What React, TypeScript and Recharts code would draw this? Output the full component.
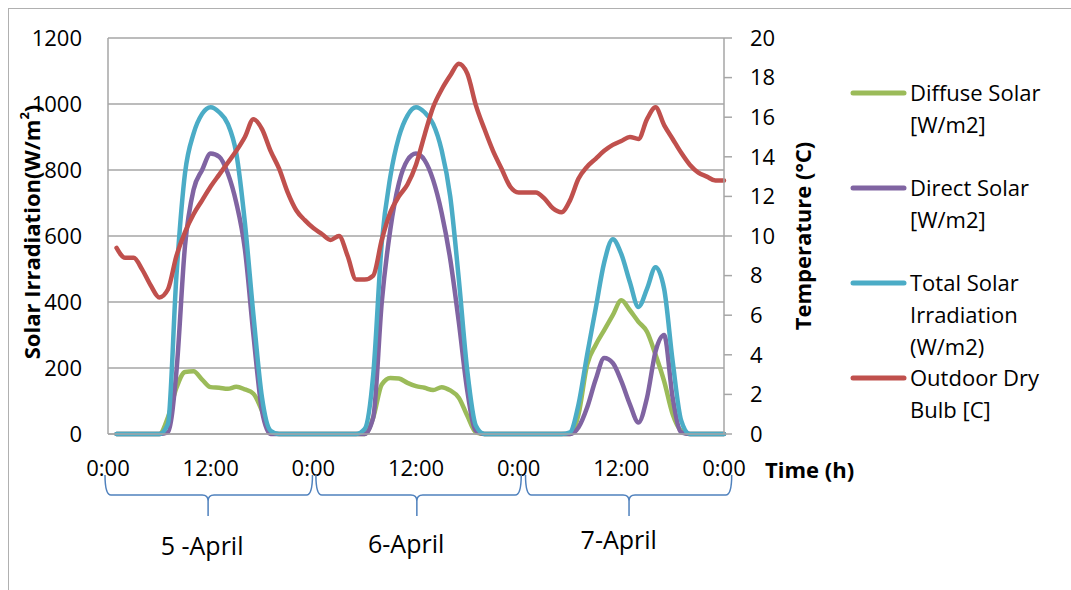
import React from 'react';
import { LineChart, Line, XAxis, YAxis, CartesianGrid, Legend } from 'recharts';

const W = 1071;
const H = 590;
const PLOT_LEFT = 108;
const PLOT_RIGHT = 724;
const PLOT_TOP = 38;
const PLOT_BOTTOM = 434;
const LEFT_AXIS_W = 108;
const RIGHT_AXIS_W = 100;
const X_AXIS_H = 30;
const FONT = '"Open Sans", "Noto Sans", sans-serif';
const FS = 22;
const AXIS_GREY = '#a6a6a6';

// hour of the 3-day period (1..72)
const hours = Array.from({ length: 72 }, (_, i) => i + 1);

const diffuseSolar = [
  0, 0, 0, 0, 0, 0, 50, 140, 188, 190, 165, 142, 140, 137, 143, 135, 122, 70, 5, 0,
  0, 0, 0, 0, 0, 0, 0, 0, 0, 0,
  50, 150, 170, 168, 155, 145, 140, 133, 142, 132, 110, 55, 5, 0,
  0, 0, 0, 0, 0, 0, 0, 0, 0, 0,
  60, 210, 270, 315, 360, 405, 375, 340, 310, 240, 160, 60, 10, 0,
  0, 0, 0, 0,
];

const directSolar = [
  0, 0, 0, 0, 0, 0, 5, 190, 570, 740, 800, 850, 840, 790, 700, 560, 300, 70, 0, 0,
  0, 0, 0, 0, 0, 0, 0, 0, 0, 0,
  50, 400, 620, 760, 830, 850, 830, 770, 670, 530, 340, 130, 10, 0,
  0, 0, 0, 0, 0, 0, 0, 0, 0, 0,
  20, 80, 165, 230, 215, 160, 90, 35, 110, 250, 300, 110, 5, 0,
  0, 0, 0, 0,
];

const totalSolar = [
  0, 0, 0, 0, 0, 0, 30, 480, 790, 910, 970, 990, 975, 940, 850, 640, 360, 110, 10, 0,
  0, 0, 0, 0, 0, 0, 0, 0, 0, 15,
  180, 580, 780, 900, 965, 990, 975, 940, 860, 720, 470, 190, 25, 0,
  0, 0, 0, 0, 0, 0, 0, 0, 0, 5,
  90, 240, 380, 520, 590, 545, 460, 385, 440, 505, 440, 220, 40, 0,
  0, 0, 0, 0,
];

const outdoorTemp = [
  9.4, 8.9, 8.9, 8.3, 7.5, 6.9, 7.3, 9.0, 10.2, 11.1, 11.8, 12.5, 13.1, 13.7, 14.3, 15.0, 15.9, 15.4, 14.3, 13.4, 12.2, 11.3, 10.8, 10.4,
  10.1, 9.8, 10.0, 9.0, 7.8, 7.8, 8.0, 9.8, 11.2, 12.0, 12.6, 13.6, 15.1, 16.5, 17.4, 18.1, 18.7, 18.2, 16.6, 15.4, 14.3, 13.4, 12.5, 12.2,
  12.2, 12.2, 11.9, 11.4, 11.2, 11.8, 12.9, 13.5, 13.9, 14.3, 14.6, 14.8, 15.0, 14.9, 15.9, 16.5, 15.6, 14.9, 14.2, 13.6, 13.2, 13.0, 12.8, 12.8,
];

const xTicks = [0, 12, 24, 36, 48, 60, 72];
const leftTicks = [0, 200, 400, 600, 800, 1000, 1200];
const rightTicks = [0, 2, 4, 6, 8, 10, 12, 14, 16, 18, 20];

const seriesInfo = [
  { key: 'diffuse', color: '#9bbb59', lines: ['Diffuse Solar', '[W/m2]'] },
  { key: 'direct', color: '#8064a2', lines: ['Direct Solar', '[W/m2]'] },
  { key: 'total', color: '#4bacc6', lines: ['Total Solar', 'Irradiation', '(W/m2)'] },
  { key: 'temp', color: '#c0504d', lines: ['Outdoor Dry', 'Bulb [C]'] },
];

// day groupings below the time axis: [start hour, end hour, brace tip hour, label]
const dayGroups = [
  { start: -0.35, end: 23.9, tip: 11.7, label: '5 -April', labelAt: 11.0, labelBase: 555 },
  { start: 24.3, end: 48.3, tip: 36.1, label: '6-April', labelAt: 34.85, labelBase: 553 },
  { start: 48.8, end: 72.9, tip: 60.9, label: '7-April', labelAt: 59.7, labelBase: 549 },
];

const data = hours.map((h, i) => ({
  h,
  diffuse: diffuseSolar[i],
  direct: directSolar[i],
  total: totalSolar[i],
  temp: outdoorTemp[i],
}));

const xOf = (h: number) => PLOT_LEFT + (h * (PLOT_RIGHT - PLOT_LEFT)) / 72;

const LeftTitle = () => {
  const cx = 31;
  const cy = 232;
  return (
    <text
      x={cx}
      y={cy}
      transform={`rotate(-90 ${cx} ${cy})`}
      textAnchor="middle"
      dominantBaseline="central"
      fontWeight="bold"
      fontSize={FS}
      fontFamily={FONT}
      fill="#000"
    >
      <tspan>Solar Irradiation(W/m</tspan>
      <tspan dy={-7} fontSize={13}>2</tspan>
      <tspan dy={7}>)</tspan>
    </text>
  );
};

const RightTitle = () => {
  const cx = 802;
  const cy = 236;
  return (
    <text
      x={cx}
      y={cy}
      transform={`rotate(-90 ${cx} ${cy})`}
      textAnchor="middle"
      dominantBaseline="central"
      fontWeight="bold"
      fontSize={FS}
      fontFamily={FONT}
      fill="#000"
    >
      Temperature (°C)
    </text>
  );
};

const TimeTitle = () => (
  <text
    x={765}
    y={469}
    textAnchor="start"
    dominantBaseline="central"
    fontWeight="bold"
    fontSize={FS}
    fontFamily={FONT}
    fill="#000"
  >
    Time (h)
  </text>
);

const LegendBox = () => (
  <div style={{ position: 'relative', width: 220, height: 360, fontFamily: FONT, fontSize: FS, color: '#000' }}>
    {seriesInfo.map((s, i) => {
      const top = i * 95;
      return (
        <div key={s.key} style={{ position: 'absolute', left: 0, top }}>
          <svg width={60} height={10} style={{ position: 'absolute', left: 0, top: 12 }}>
            <line x1={3} y1={5} x2={54} y2={5} stroke={s.color} strokeWidth={5} strokeLinecap="round" />
          </svg>
          <div style={{ position: 'absolute', left: 60, top: 0, lineHeight: '32px', whiteSpace: 'nowrap' }}>
            {s.lines.map((l, j) => (
              <div key={j}>{l}</div>
            ))}
          </div>
        </div>
      );
    })}
  </div>
);

const Braces = () => (
  <svg width={W} height={H} style={{ position: 'absolute', left: 0, top: 0, pointerEvents: 'none' }}>
    {dayGroups.map((g, i) => {
      const a = xOf(g.start);
      const b = xOf(g.end);
      const m = xOf(g.tip);
      const yt = 475;
      const yh = 495;
      const yb = 516;
      const d = `M ${a} ${yt} Q ${a} ${yh} ${a + 6} ${yh} L ${m - 6} ${yh} Q ${m} ${yh} ${m} ${yh + 6} L ${m} ${yb} M ${m} ${yh + 6} Q ${m} ${yh} ${m + 6} ${yh} L ${b - 6} ${yh} Q ${b} ${yh} ${b} ${yt}`;
      return (
        <g key={i}>
          <path d={d} fill="none" stroke="#4f81bd" strokeWidth={1.5} />
          <text
            x={xOf(g.labelAt)}
            y={g.labelBase}
            textAnchor="middle"
            fontSize={25}
            fontFamily={FONT}
            fill="#000"
          >
            {g.label}
          </text>
        </g>
      );
    })}
  </svg>
);

export default function App() {
  const tickStyle = { fontSize: FS, fontFamily: FONT, fill: '#000' };
  return (
    <div style={{ position: 'relative', width: W, height: H, overflow: 'hidden', background: '#fff' }}>
      <style>{'body{margin:0;}'}</style>
      <div
        style={{
          position: 'absolute',
          left: 8,
          top: 8,
          width: 1100,
          height: 620,
          border: '1px solid #b0b0b0',
        }}
      />
      <div style={{ position: 'absolute', left: 0, top: 0 }}>
        <LineChart
          width={W}
          height={H}
          data={data}
          margin={{
            top: PLOT_TOP,
            left: PLOT_LEFT - LEFT_AXIS_W,
            right: W - PLOT_RIGHT - RIGHT_AXIS_W,
            bottom: H - PLOT_BOTTOM - X_AXIS_H,
          }}
        >
          <CartesianGrid yAxisId="left" vertical={false} stroke={AXIS_GREY} strokeWidth={1.5} />
          <XAxis
            dataKey="h"
            type="number"
            domain={[0, 72]}
            ticks={xTicks}
            interval={0}
            height={X_AXIS_H}
            tickFormatter={(v: number) => (v % 24 === 0 ? '0:00' : '12:00')}
            axisLine={{ stroke: AXIS_GREY, strokeWidth: 1.5 }}
            tickLine={false}
            tickSize={0}
            tickMargin={26}
            tick={tickStyle}
            label={<TimeTitle />}
          />
          <YAxis
            yAxisId="left"
            domain={[0, 1200]}
            ticks={leftTicks}
            interval={0}
            width={LEFT_AXIS_W}
            axisLine={{ stroke: AXIS_GREY, strokeWidth: 1.5 }}
            tickLine={false}
            tickSize={0}
            tickMargin={26}
            tick={tickStyle}
            label={<LeftTitle />}
          />
          <YAxis
            yAxisId="right"
            orientation="right"
            domain={[0, 20]}
            ticks={rightTicks}
            interval={0}
            width={RIGHT_AXIS_W}
            axisLine={{ stroke: AXIS_GREY, strokeWidth: 1.5 }}
            tickLine={{ stroke: AXIS_GREY, strokeWidth: 1.5 }}
            tickSize={8}
            tickMargin={18}
            tick={tickStyle}
            label={<RightTitle />}
          />
          <Legend
            layout="vertical"
            align="center"
            verticalAlign="middle"
            wrapperStyle={{ left: 850, top: 76, width: 220 }}
            content={() => <LegendBox />}
          />
          <Line yAxisId="left" type="monotone" dataKey="diffuse" stroke="#9bbb59" strokeWidth={4.5} dot={false} activeDot={false} isAnimationActive={false} strokeLinecap="round" strokeLinejoin="round" />
          <Line yAxisId="left" type="monotone" dataKey="direct" stroke="#8064a2" strokeWidth={4.5} dot={false} activeDot={false} isAnimationActive={false} strokeLinecap="round" strokeLinejoin="round" />
          <Line yAxisId="left" type="monotone" dataKey="total" stroke="#4bacc6" strokeWidth={4.5} dot={false} activeDot={false} isAnimationActive={false} strokeLinecap="round" strokeLinejoin="round" />
          <Line yAxisId="right" type="monotone" dataKey="temp" stroke="#c0504d" strokeWidth={4.5} dot={false} activeDot={false} isAnimationActive={false} strokeLinecap="round" strokeLinejoin="round" />
        </LineChart>
      </div>
      <Braces />
    </div>
  );
}
